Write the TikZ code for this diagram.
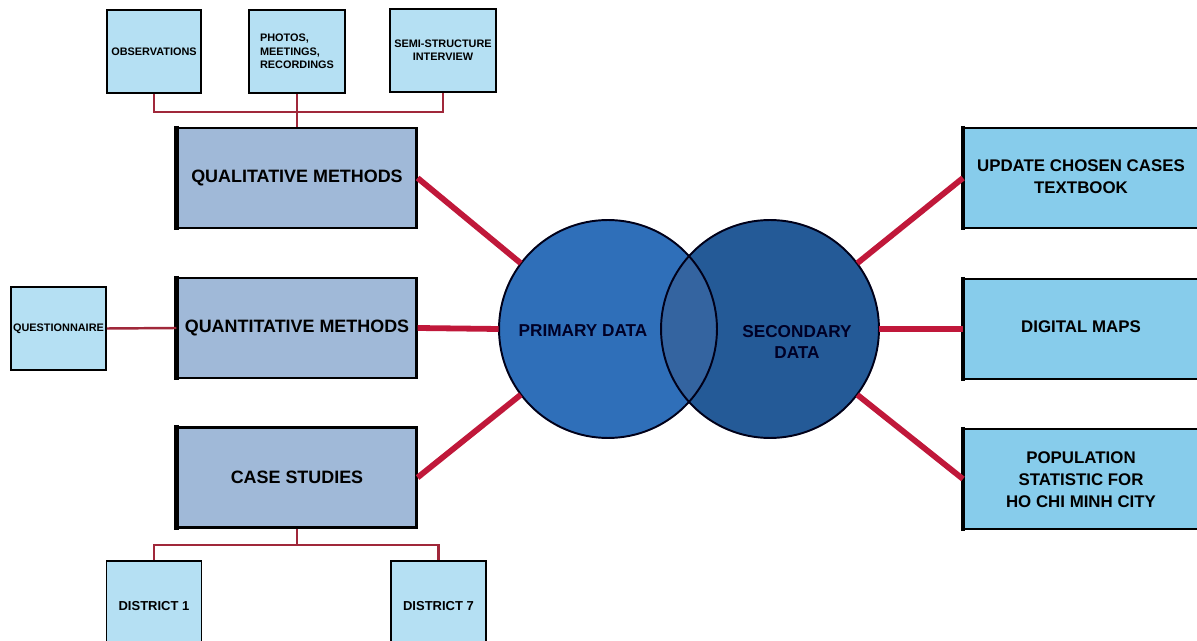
\documentclass[tikz,border=0pt]{standalone}
\usepackage{fontspec}
\setmainfont{Liberation Sans}
\definecolor{lightbox}{HTML}{B5E0F3}
\definecolor{midbox}{HTML}{A0B9D8}
\definecolor{rightbox}{HTML}{87CCEB}
\definecolor{primc}{HTML}{2F6FB9}
\definecolor{secc}{HTML}{245A97}
\definecolor{interc}{HTML}{3464A0}
\definecolor{redline}{HTML}{C0183A}
\definecolor{thinred}{HTML}{A0283A}
\tikzset{
  smallbox/.style={draw=black, line width=1.1pt, fill=lightbox, font=\bfseries\fontsize{6.2}{7.6}\selectfont, align=center, inner sep=0pt},
  midboxst/.style={draw=black, line width=1.3pt, fill=midbox, minimum width=4.78cm, minimum height=2.0cm, font=\bfseries\fontsize{10.2}{12}\selectfont, align=center, inner sep=0pt},
  rightboxst/.style={draw=black, line width=1.2pt, fill=rightbox, minimum width=5.0cm, minimum height=2.0cm, inner sep=0pt},
  righttext/.style={font=\bfseries\fontsize{9.6}{12.5}\selectfont, align=center},
  bigred/.style={draw=redline, line width=3.3pt},
  thinredst/.style={draw=thinred, line width=1.4pt},
  circtext/.style={font=\bfseries\fontsize{9.8}{12.5}\selectfont, align=center, text=black!85!blue}
}
\begin{document}
\begin{tikzpicture}[x=0.02cm, y=-0.02cm]
\useasboundingbox (0,0) rectangle (1197,641);
\clip (0,0) rectangle (1197,641);
% top small boxes
\node[smallbox, minimum width=1.88cm, minimum height=1.66cm] (obs) at (154,51.5) {OBSERVATIONS};
\node[smallbox, minimum width=1.92cm, minimum height=1.66cm, align=left] (pho) at (297,51.5) {PHOTOS,\\MEETINGS,\\RECORDINGS};
\node[smallbox, minimum width=2.12cm, minimum height=1.66cm] (sem) at (443,50.5) {SEMI-STRUCTURE\\INTERVIEW};
% method boxes
\node[midboxst] (qual) at (297,178) {QUALITATIVE METHODS};
\node[midboxst] (quan) at (297,328) {QUANTITATIVE METHODS};
\node[midboxst] (case) at (297,477.5) {CASE STUDIES};
\foreach \n in {qual,quan,case}{
  \draw[line width=3pt] ([yshift=0.6pt]\n.north west) -- ([yshift=-0.6pt]\n.south west);
}
% questionnaire
\node[smallbox, minimum width=1.9cm, minimum height=1.66cm] (que) at (58.5,328.5) {QUESTIONNAIRE};
% districts
\node[smallbox, minimum width=1.9cm, minimum height=1.8cm, font=\bfseries\fontsize{7.4}{9}\selectfont] (d1) at (154,606) {DISTRICT 1};
\node[smallbox, minimum width=1.9cm, minimum height=1.8cm, font=\bfseries\fontsize{7.4}{9}\selectfont] (d7) at (438.5,606) {DISTRICT 7};
% right boxes
\node[rightboxst] (upd) at (1089,178) {};
\node[rightboxst] (dig) at (1089,329) {};
\node[rightboxst] (pop) at (1089,479) {};
\foreach \n in {upd,dig,pop}{
  \draw[line width=2.6pt] ([yshift=0.6pt]\n.north west) -- ([yshift=-0.6pt]\n.south west);
}
\node[righttext] (updt) at (1081,177) {UPDATE CHOSEN CASES\\TEXTBOOK};
\node[righttext] (digt) at (1081,327) {DIGITAL MAPS};
\node[righttext] (popt) at (1081,480) {POPULATION\\STATISTIC FOR\\HO CHI MINH CITY};
% circles
\node[circle, minimum size=4.36cm, inner sep=0pt, fill=primc] (prim) at (608,329) {};
\node[circle, minimum size=4.36cm, inner sep=0pt, fill=secc] (sec) at (770,329) {};
\begin{scope}
  \clip (608,329) circle (2.18cm);
  \fill[interc] (770,329) circle (2.18cm);
\end{scope}
\draw[line width=1.1pt, black!90!blue] (608,329) circle (2.18cm);
\draw[line width=1.1pt, black!90!blue] (770,329) circle (2.18cm);
\node[circtext] (primt) at (583,331) {PRIMARY DATA};
\node[circtext] (sect) at (797,342) {SECONDARY\\DATA};
% top tree connectors
\coordinate (tbar) at (297,112);
\draw[thinredst] (obs.south) |- (tbar) -| (sem.south);
\draw[thinredst] (pho.south) -- (qual.north);
% bottom tree
\coordinate (bbar) at (297,545);
\draw[thinredst] (case.south) -- (bbar);
\draw[thinredst] (d1.north) |- (bbar) -| (d7.north);
% questionnaire link
\draw[thinredst] (quan.west) -- (que.east);
% big red connectors
\draw[bigred] (qual.east) -- (prim.143);
\draw[bigred] (quan.east) -- (prim.west);
\draw[bigred] (case.east) -- (prim.217);
\draw[bigred] (sec.37) -- (upd.west);
\draw[bigred] (sec.east) -- (dig.west);
\draw[bigred] (sec.-37) -- (pop.west);
\end{tikzpicture}
\end{document}
